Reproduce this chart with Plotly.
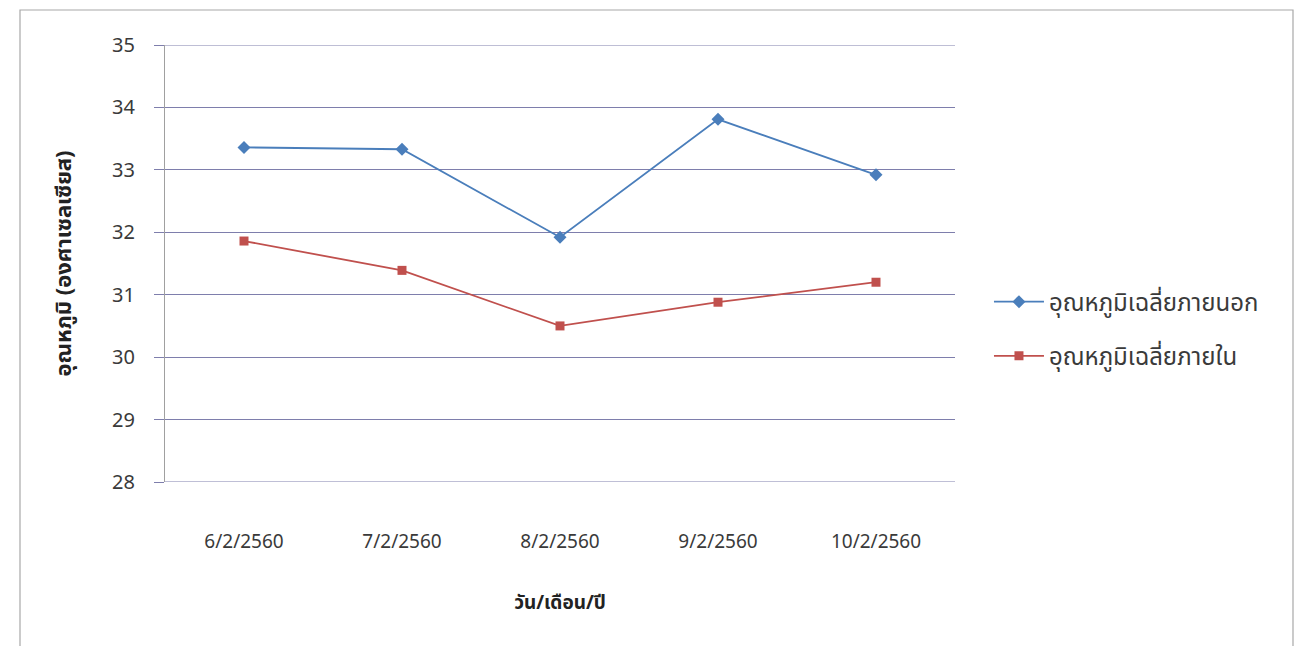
import plotly.graph_objects as go

dates = ["6/2/2560", "7/2/2560", "8/2/2560", "9/2/2560", "10/2/2560"]
outside_temp = [33.36, 33.33, 31.92, 33.81, 32.92]
inside_temp = [31.86, 31.39, 30.50, 30.88, 31.20]
y_ticks = [28, 29, 30, 31, 32, 33, 34, 35]
name_outside = "อุณหภูมิเฉลี่ยภายนอก"
name_inside = "อุณหภูมิเฉลี่ยภายใน"
y_title = "อุณหภูมิ (องศาเซลเซียส)"
x_title = "วัน/เดือน/ปี"

FONT = "Tahoma, 'Noto Sans Thai', 'DejaVu Sans', 'Noto Sans', sans-serif"
GRID = "#7E7EAC"

fig = go.Figure()
fig.add_trace(go.Scatter(
    x=dates, y=outside_temp, name=name_outside, mode="lines+markers",
    line=dict(color="#4A7EBB", width=1.8),
    marker=dict(symbol="diamond", size=10, color="#4A7EBB"),
    legendgroup="a"))
fig.add_trace(go.Scatter(
    x=dates, y=inside_temp, name=name_inside, mode="lines+markers",
    line=dict(color="#C0504D", width=1.8),
    marker=dict(symbol="square", size=9, color="#C0504D"),
    legendgroup="b"))

fig.update_layout(
    width=1304, height=646,
    margin=dict(l=157, r=357, t=37, b=172),
    paper_bgcolor="white", plot_bgcolor="white",
    font=dict(family=FONT, size=18, color="#3A3A3A"),
    showlegend=True,
    legend=dict(x=1.043, y=0.35, xanchor="left", yanchor="middle",
                font=dict(size=24, color="#3A3A3A"), tracegroupgap=20,
                itemwidth=50, bgcolor="rgba(0,0,0,0)"),
    xaxis=dict(
        type="category", range=[-0.5, len(dates) - 0.5],
        showgrid=False, showline=False, ticks="",
        ticklabelstandoff=46, tickfont=dict(size=19),
        title=dict(text="<b>" + x_title + "</b>", standoff=39,
                   font=dict(size=19, color="#222222")),
    ),
    yaxis=dict(
        range=[min(y_ticks), max(y_ticks)], tickvals=y_ticks,
        showgrid=True, gridcolor=GRID,
        gridwidth=1, zeroline=False,
        showline=True, linecolor="#A0A0A0", linewidth=1,
        ticks="outside", ticklen=10, tickcolor=GRID,
        ticklabelstandoff=15, tickfont=dict(size=20),
        title=dict(text="<b>" + y_title + "</b>", standoff=34,
                   font=dict(size=22, color="#222222")),
    ),
)

# gridlines at the axis range ends (plotly omits them at the edges)
for v in (min(y_ticks), max(y_ticks)):
    fig.add_shape(type="line", xref="paper", yref="y", x0=0, x1=1, y0=v, y1=v,
                  line=dict(color=GRID, width=1), layer="below")

# outer chart border
fig.add_shape(type="rect", xref="paper", yref="paper",
              x0=-145/790, x1=(1293 - 165) / 790, y0=-0.5, y1=(482 - 10) / 437,
              line=dict(color="#A8A8A8", width=1.2), fillcolor="rgba(0,0,0,0)")

fig.write_html("out.html")
